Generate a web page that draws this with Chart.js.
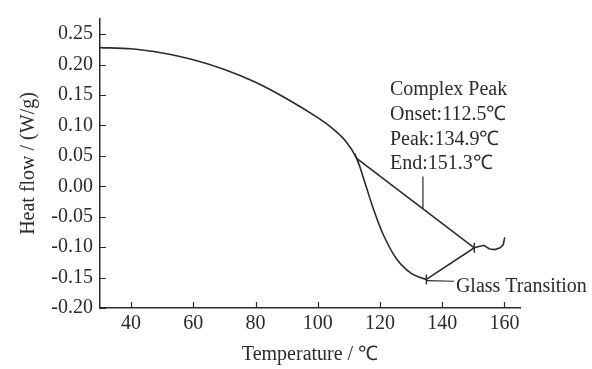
<!DOCTYPE html>
<html>
<head>
<meta charset="utf-8">
<script src="https://cdn.jsdelivr.net/npm/chart.js@4.4.1/dist/chart.umd.min.js"></script>
<style>
  html, body { margin: 0; padding: 0; background: #fff; }
  #wrap { width: 592px; height: 369px; }
</style>
</head>
<body>
<div id="wrap"><canvas id="dsc"></canvas></div>
<script>
// DSC curve
const curveTemp = [30, 40, 50, 60, 70, 80, 90, 100, 105, 109, 112.5, 114.6, 117.8, 121.1, 125.4, 129.7, 132.9, 134.9];
const curveFlow = [0.228, 0.226, 0.219, 0.208, 0.192, 0.171, 0.144, 0.113, 0.094, 0.074, 0.046, 0.015, -0.036, -0.080, -0.120, -0.142, -0.150, -0.153];

// straight rise after the peak and the noisy tail
const tailTemp = [134.9, 150.3, 151.8, 153.4, 155.2, 156.9, 158.6, 159.6, 160.1];
const tailFlow = [-0.153, -0.101, -0.099, -0.097, -0.103, -0.104, -0.101, -0.096, -0.084];

// onset -> end baseline
const baseTemp = [112.5, 150.3];
const baseFlow = [0.046, -0.101];

// marks at onset, peak, end
const markTemp = [112.5, 134.9, 150.3];
const markFlow = [0.046, -0.153, -0.101];

const xTicks = [40, 60, 80, 100, 120, 140, 160];
const yTicks = [-0.20, -0.15, -0.10, -0.05, 0.00, 0.05, 0.10, 0.15, 0.20, 0.25];

const peakNotes = ["Complex Peak", "Onset:112.5℃", "Peak:134.9℃", "End:151.3℃"];
const glassNote = "Glass Transition";

const pts = (xs, ys) => xs.map((x, i) => ({ x: x, y: ys[i] }));

const ink = "#2b2b2b";
Chart.defaults.font.family = "'Liberation Serif', 'Times New Roman', serif";
Chart.defaults.font.size = 20;
Chart.defaults.color = ink;

// inward tick marks + text notes
const extras = {
  id: "extras",
  afterDraw(chart) {
    const c = chart.ctx;
    const xs = chart.scales.x, ys = chart.scales.y;
    const area = chart.chartArea;
    c.save();
    c.strokeStyle = ink;
    c.lineWidth = 1.2;
    c.beginPath();
    xTicks.forEach(v => {
      const px = Math.round(xs.getPixelForValue(v)) + 0.5;
      c.moveTo(px, area.bottom);
      c.lineTo(px, area.bottom - 6);
    });
    yTicks.forEach(v => {
      const py = Math.round(ys.getPixelForValue(v)) + 0.5;
      c.moveTo(area.left, py);
      c.lineTo(area.left + 6, py);
    });
    // leader to the peak note
    c.moveTo(xs.getPixelForValue(133.8), ys.getPixelForValue(0.016));
    c.lineTo(xs.getPixelForValue(133.8), ys.getPixelForValue(-0.037));
    // leader to the glass note
    c.moveTo(xs.getPixelForValue(134.9), ys.getPixelForValue(-0.155));
    c.lineTo(xs.getPixelForValue(143.8), ys.getPixelForValue(-0.156));
    c.stroke();

    c.fillStyle = ink;
    c.font = "20px 'Liberation Serif', 'Times New Roman', serif";
    c.textBaseline = "middle";
    c.textAlign = "left";
    const noteY = [0.159, 0.118, 0.076, 0.037];
    peakNotes.forEach((t, i) => {
      c.fillText(t, xs.getPixelForValue(123.2), ys.getPixelForValue(noteY[i]));
    });
    c.fillText(glassNote, xs.getPixelForValue(144.4), ys.getPixelForValue(-0.165));
    c.restore();
  }
};

new Chart(document.getElementById("dsc"), {
  type: "scatter",
  data: {
    datasets: [
      {
        data: pts(curveTemp, curveFlow),
        showLine: true,
        borderColor: ink,
        borderWidth: 1.6,
        pointRadius: 0,
        tension: 0.3,
      },
      {
        data: pts(tailTemp, tailFlow),
        showLine: true,
        borderColor: ink,
        borderWidth: 1.6,
        pointRadius: 0,
        tension: 0,
      },
      {
        data: pts(baseTemp, baseFlow),
        showLine: true,
        borderColor: ink,
        borderWidth: 1.6,
        pointRadius: 0,
      },
      {
        data: pts(markTemp, markFlow),
        showLine: false,
        pointStyle: "line",
        rotation: [70, 90, 90],
        pointRadius: 5,
        borderColor: ink,
        borderWidth: 1.4,
      },
    ],
  },
  options: {
    responsive: true,
    maintainAspectRatio: false,
    animation: false,
    layout: { padding: { top: 15, right: 72, left: 0, bottom: 0 } },
    plugins: { legend: { display: false }, tooltip: { enabled: false } },
    scales: {
      x: {
        type: "linear",
        min: 30,
        max: 165,
        afterBuildTicks: (s) => { s.ticks = xTicks.map(v => ({ value: v })); },
        afterFit: (s) => { s.height = 61; },
        grid: { display: false, drawTicks: false },
        border: { display: true, color: ink, width: 1.5 },
        ticks: { padding: 4, maxRotation: 0, autoSkip: false },
        title: { display: true, text: "Temperature / ℃", padding: { top: 0, bottom: 2 } },
      },
      y: {
        min: -0.2,
        max: 0.275,
        afterBuildTicks: (s) => { s.ticks = yTicks.map(v => ({ value: v })); },
        afterFit: (s) => { s.width = 100; },
        grid: { display: false, drawTicks: false },
        border: { display: true, color: ink, width: 1.5 },
        ticks: { padding: 7, autoSkip: false, callback: (v) => Number(v).toFixed(2) },
        title: { display: true, text: "Heat flow / (W/g)", padding: { top: 17, bottom: 0 } },
      },
    },
  },
  plugins: [extras],
});
</script>
</body>
</html>
